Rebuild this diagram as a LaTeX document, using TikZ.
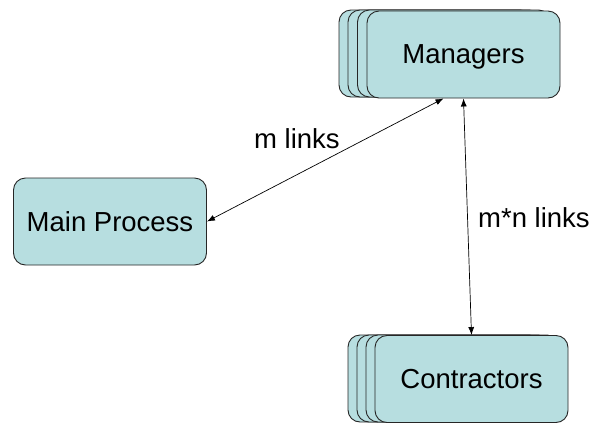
\documentclass[tikz,border=0pt]{standalone}
\usepackage{fontspec}
\setmainfont{Liberation Sans}
\usetikzlibrary{arrows.meta}
\definecolor{cardfill}{RGB}{183,222,224}
\begin{document}
\begin{tikzpicture}[x=1pt,y=-1pt,
        card/.style={rectangle,rounded corners=12pt,draw=black!85,fill=cardfill,line width=0.9pt,
            minimum width=193pt,minimum height=87pt,inner sep=0pt,text depth=0pt,
            font=\fontsize{27.5}{33}\selectfont},
        link/.style={{Latex[length=8pt,width=6pt]}-{Latex[length=8pt,width=6pt]},line width=0.7pt},
        lbl/.style={font=\fontsize{27.5}{33}\selectfont}]
        \useasboundingbox (0,0) rectangle (606,424);
        % managers, stacked
        \node[card] (mgr3) at (435.5,53.5) {};
        \node[card] (mgr2) at (444.5,53.5) {};
        \node[card] (mgr1) at (454,53.5) {};
        \node[card] (mgr) at (463.5,54.5) {Managers};
        % contractors, stacked
        \node[card] (con3) at (444.5,378.5) {};
        \node[card] (con2) at (453.5,378.5) {};
        \node[card] (con1) at (462.5,378.5) {};
        \node[card] (con) at (471.5,379) {Contractors};
        \node[card] (main) at (110,221.5) {Main Process};
        \draw[link] (main.east) -- ([xshift=-20pt]mgr.south);
        \draw[link] (mgr.south) -- (con.north);
        \node[lbl] (ml) at (297,139) {m links};
        \node[lbl] (mnl) at (534,218) {m*n links};
    \end{tikzpicture}
\end{document}
